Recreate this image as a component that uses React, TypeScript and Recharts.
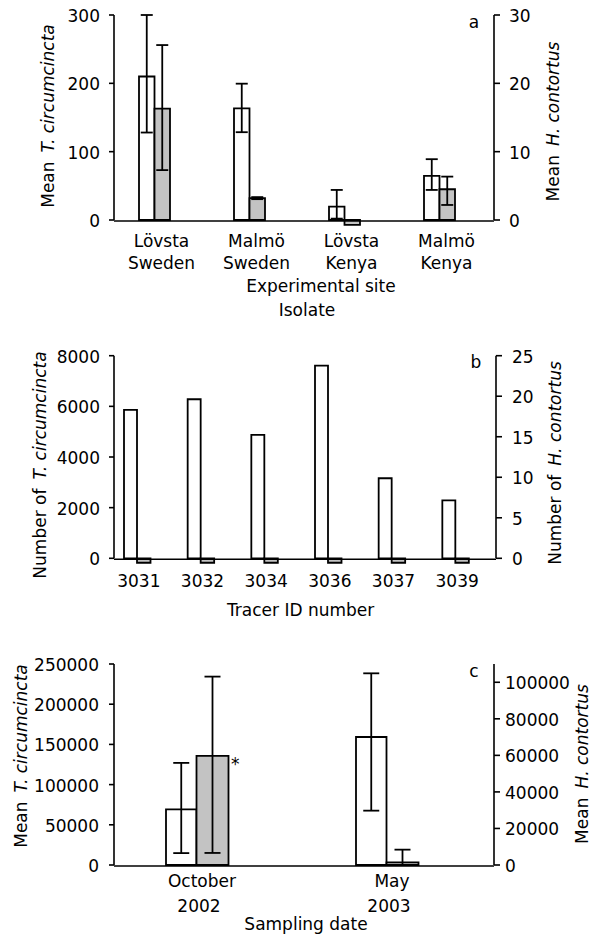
import React from 'react';
import { ComposedChart, Bar, XAxis, YAxis, ErrorBar, LabelList } from 'recharts';

const FONT = '"DejaVu Sans", Verdana, sans-serif';
const FS = 17;
const GREY = '#c3c3c3';
const SW = 1.8;
const AXIS = { stroke: '#000', strokeWidth: 1.6 };

// ---- Panel a ----
const aLine1 = ['Lövsta', 'Malmö', 'Lövsta', 'Malmö'];
const aLine2 = ['Sweden', 'Sweden', 'Kenya', 'Kenya'];
const aTc = [210, 163.5, 19.5, 64.5];
const aTcErr = [[82, 90], [35, 36], [17.5, 24.5], [20.5, 24.5]];
const aHc = [16.3, 3.2, -0.7, 4.5];
const aHcErr = [[9, 9.3], [0.15, 0.15], null, [2.3, 1.85]];
const aLeftTicks = [0, 100, 200, 300];
const aRightTicks = [0, 10, 20, 30];

// ---- Panel b ----
const bIds = ['3031', '3032', '3034', '3036', '3037', '3039'];
const bTc = [5860, 6280, 4870, 7610, 3160, 2290];
const bHc = [-0.55, -0.55, -0.55, -0.55, -0.55, -0.55];
const bLeftTicks = [0, 2000, 4000, 6000, 8000];
const bRightTicks = [0, 5, 10, 15, 20, 25];

// ---- Panel c ----
const cLine1 = ['October', 'May'];
const cLine2 = ['2002', '2003'];
const cTc = [69300, 159200];
const cTcErr = [[54500, 57700], [91600, 79200]];
const cHc = [59700, 1400];
const cHcErr = [[53100, 43400], [1400, 7000]];
const cHcMark = ['*', ''];
const cLeftTicks = [0, 50000, 100000, 150000, 200000, 250000];
const cRightTicks = [0, 20000, 40000, 60000, 80000, 100000];

const aData = aLine1.map((l1, i) => ({
  site: `${l1} ${aLine2[i]}`,
  tc: aTc[i],
  tcErr: aTcErr[i],
  hc: aHc[i],
  hcErr: aHcErr[i] ?? undefined,
}));
const bData = bIds.map((id, i) => ({ id, tc: bTc[i], hc: bHc[i] }));
const cData = cLine1.map((l1, i) => ({
  date: `${l1} ${cLine2[i]}`,
  tc: cTc[i],
  tcErr: cTcErr[i],
  hc: cHc[i],
  hcErr: cHcErr[i],
  mark: cHcMark[i],
}));

const edgeTicks = (n: number) => Array.from({ length: n + 1 }, (_, i) => i);

const txt = { fontFamily: FONT, fontSize: FS, fill: '#000' } as const;

const yTick = (anchor: 'start' | 'end', dy = 7) => (p: any) => (
  <text x={p.x} y={p.y} dy={dy} textAnchor={anchor} {...txt}>
    {p.payload.value}
  </text>
);

const xTick = (l1: string[], l2: string[] | null, y1: number, y2: number, dx1: number, dx2: number) => (p: any) => {
  const i = p.index ?? p.payload.index ?? 0;
  return (
    <g>
      <text x={p.x + dx1} y={p.y + y1} textAnchor="middle" {...txt}>{l1[i]}</text>
      {l2 && <text x={p.x + dx2} y={p.y + y2} textAnchor="middle" {...txt}>{l2[i]}</text>}
    </g>
  );
};

const vTitle = (prefix: string, italic: string, bx: number, dyc: number, letter?: string) => (props: any) => {
  const vb = props.viewBox || { x: 0, y: 0, width: 0, height: 0 };
  const x = vb.x + bx;
  const cy = vb.y + vb.height / 2 + dyc;
  return (
    <g>
      <text x={x} y={cy} transform={`rotate(-90, ${x}, ${cy})`} textAnchor="middle" {...txt}>
        <tspan>{prefix}</tspan>
        <tspan dx={9} fontStyle="italic">{italic}</tspan>
      </text>
      {letter && (
        <text x={vb.x - 20} y={vb.y + 12.5} textAnchor="middle" {...txt}>{letter}</text>
      )}
    </g>
  );
};

const xTitle = (lines: { text: string; dx: number; y: number }[]) => (props: any) => {
  const vb = props.viewBox || { x: 0, y: 0, width: 0, height: 0 };
  const cx = vb.x + vb.width / 2;
  return (
    <g>
      {lines.map((l) => (
        <text key={l.text} x={cx + l.dx} y={vb.y + l.y} textAnchor="middle" {...txt}>{l.text}</text>
      ))}
    </g>
  );
};

const StarLabel = (p: any) =>
  p.value ? (
    <text x={p.x + p.width + 2.5} y={p.y + 14} {...txt}>{p.value}</text>
  ) : null;

function PanelA() {
  return (
    <ComposedChart width={593} height={325} data={aData} margin={{ top: 15, right: 0, bottom: 103, left: 0 }} barGap={0}>
      <XAxis xAxisId="edge" type="number" domain={[0, aData.length]} ticks={edgeTicks(aData.length)} tick={false}
        tickSize={5} height={1} allowDataOverflow interval={0} axisLine={AXIS} tickLine={AXIS} />
      <XAxis dataKey="site" type="category" axisLine={false} tickLine={false} tickSize={0} tickMargin={0} height={1}
        interval={0} tick={xTick(aLine1, aLine2, 27, 49, 0, 0)}
        label={{ content: xTitle([{ text: 'Experimental site', dx: 17, y: 71.7 }, { text: 'Isolate', dx: 3, y: 96 }]) }} />
      <YAxis yAxisId="left" width={114} domain={[0, 300]} ticks={aLeftTicks} allowDataOverflow interval={0}
        axisLine={AXIS} tickLine={AXIS} tickSize={5} tickMargin={9} tick={yTick('end')}
        label={{ content: vTitle('Mean', 'T. circumcincta', 54, -1.5) }} />
      <YAxis yAxisId="right" orientation="right" width={99} domain={[0, 30]} ticks={aRightTicks} allowDataOverflow interval={0}
        axisLine={AXIS} tickLine={AXIS} tickSize={6} tickMargin={9} tick={yTick('start')}
        label={{ content: vTitle('Mean', 'H. contortus', 65, 4, 'a') }} />
      <Bar yAxisId="left" dataKey="tc" barSize={15.5} fill="#fff" stroke="#000" strokeWidth={SW} isAnimationActive={false}>
        <ErrorBar dataKey="tcErr" width={6} stroke="#000" strokeWidth={SW} direction="y" />
      </Bar>
      <Bar yAxisId="right" dataKey="hc" barSize={15.5} fill={GREY} stroke="#000" strokeWidth={SW} isAnimationActive={false}>
        <ErrorBar dataKey="hcErr" width={6} stroke="#000" strokeWidth={SW} direction="y" />
      </Bar>
      <Bar yAxisId="right" dataKey="spacer" barSize={14} fill="none" isAnimationActive={false} />
    </ComposedChart>
  );
}

function PanelB() {
  return (
    <ComposedChart width={593} height={300} data={bData} margin={{ top: 30.7, right: 0, bottom: 64.7, left: 0 }} barGap={0}>
      <XAxis xAxisId="edge" type="number" domain={[0, bData.length]} ticks={edgeTicks(bData.length)} tick={false}
        tickSize={5} height={1} allowDataOverflow interval={0} axisLine={AXIS} tickLine={AXIS} />
      <XAxis dataKey="id" type="category" axisLine={false} tickLine={false} tickSize={0} tickMargin={0} height={1}
        interval={0} tick={xTick(bIds, null, 28.7, 0, -7, 0)}
        label={{ content: xTitle([{ text: 'Tracer ID number', dx: -4.4, y: 57.7 }]) }} />
      <YAxis yAxisId="left" width={114} domain={[0, 8000]} ticks={bLeftTicks} allowDataOverflow interval={0}
        axisLine={AXIS} tickLine={AXIS} tickSize={5} tickMargin={9} tick={yTick('end')}
        label={{ content: vTitle('Number of', 'T. circumcincta', 45.5, 8) }} />
      <YAxis yAxisId="right" orientation="right" width={97} domain={[0, 25]} ticks={bRightTicks} allowDataOverflow interval={0}
        axisLine={AXIS} tickLine={AXIS} tickSize={6} tickMargin={10} tick={yTick('start')}
        label={{ content: vTitle('Number of', 'H. contortus', 65, 6, 'b') }} />
      <Bar yAxisId="left" dataKey="tc" barSize={13} fill="#fff" stroke="#000" strokeWidth={SW} isAnimationActive={false} />
      <Bar yAxisId="right" dataKey="hc" barSize={13.5} fill={GREY} stroke="#000" strokeWidth={SW} isAnimationActive={false} />
      <Bar yAxisId="right" dataKey="spacer" barSize={18} fill="none" isAnimationActive={false} />
    </ComposedChart>
  );
}

function PanelC() {
  return (
    <ComposedChart width={593} height={312} data={cData} margin={{ top: 39, right: 0, bottom: 70, left: 0 }} barGap={0}>
      <XAxis xAxisId="edge" type="number" domain={[0, cData.length]} ticks={edgeTicks(cData.length)} tick={false}
        tickSize={5} height={1} allowDataOverflow interval={0} axisLine={AXIS} tickLine={AXIS} />
      <XAxis dataKey="date" type="category" axisLine={false} tickLine={false} tickSize={0} tickMargin={0} height={1}
        interval={0} tick={xTick(cLine1, cLine2, 22, 47, -7, -10)}
        label={{ content: xTitle([{ text: 'Sampling date', dx: 2, y: 65 }]) }} />
      <YAxis yAxisId="left" width={114} domain={[0, 250000]} ticks={cLeftTicks} allowDataOverflow interval={0}
        axisLine={AXIS} tickLine={AXIS} tickSize={5} tickMargin={10} tick={yTick('end')}
        label={{ content: vTitle('Mean', 'T. circumcincta', 27, -8.5) }} />
      <YAxis yAxisId="right" orientation="right" width={99} domain={[0, 110000]} ticks={cRightTicks} allowDataOverflow interval={0}
        axisLine={AXIS} tickLine={AXIS} tickSize={6} tickMargin={5} tick={yTick('start')}
        label={{ content: vTitle('Mean', 'H. contortus', 94, -0.5, 'c') }} />
      <Bar yAxisId="left" dataKey="tc" barSize={30.5} fill="#fff" stroke="#000" strokeWidth={SW} isAnimationActive={false}>
        <ErrorBar dataKey="tcErr" width={8} stroke="#000" strokeWidth={SW} direction="y" />
      </Bar>
      <Bar yAxisId="right" dataKey="hc" barSize={32} fill={GREY} stroke="#000" strokeWidth={SW} isAnimationActive={false}>
        <ErrorBar dataKey="hcErr" width={8} stroke="#000" strokeWidth={SW} direction="y" />
        <LabelList dataKey="mark" content={StarLabel} />
      </Bar>
      <Bar yAxisId="right" dataKey="spacer" barSize={23.5} fill="none" isAnimationActive={false} />
    </ComposedChart>
  );
}

export default function App() {
  return (
    <div style={{ position: 'relative', width: 593, height: 937, background: '#fff', overflow: 'hidden' }}>
      <style>{'body{margin:0} .recharts-surface g[clip-path]{clip-path:none !important}'}</style>
      <div style={{ position: 'absolute', left: 0, top: 0 }}><PanelA /></div>
      <div style={{ position: 'absolute', left: 0, top: 325 }}><PanelB /></div>
      <div style={{ position: 'absolute', left: 0, top: 625 }}><PanelC /></div>
    </div>
  );
}
